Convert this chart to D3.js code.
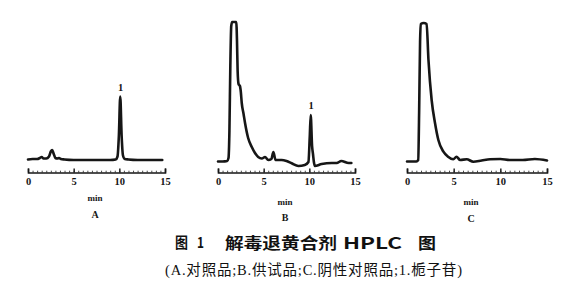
<!DOCTYPE html>
<html><head><meta charset="utf-8">
<script src="https://cdn.jsdelivr.net/npm/d3@7"></script>
<style>html,body{margin:0;padding:0;background:#fff;}svg{display:block;}</style>
</head><body>
<svg id="c" width="583" height="289"></svg>
<script>
// ---- data (time in min, detector signal in arbitrary units) ----
const timesA = [0,0.5,1.0,1.3,1.5,1.7,2.0,2.3,2.5,2.65,2.8,3.0,3.2,3.4,3.6,4.0,5.0,6.0,7.0,8.0,9.0,9.6,9.8,9.95,10.1,10.25,10.4,10.6,11.0,12.0,13.0,14.0,14.7];
const valuesA = [1,1.5,1.5,2.5,3.5,2,2,4,9,10.5,7,2.5,2,2.5,1.5,1,0.5,0.5,0.5,0.5,0.5,1,4,25,64,25,5,1.5,1,0.5,0.5,0.5,0.5];

const timesB = [0,0.5,1.0,1.15,1.25,1.35,1.45,1.55,1.8,2.0,2.08,2.15,2.25,2.4,2.5,2.6,2.8,2.96,3.3,3.7,4.05,4.4,4.8,5.15,5.5,5.85,6.06,6.3,6.97,7.5,8.07,8.8,9.5,9.9,10.05,10.15,10.3,10.4,10.5,10.6,11.35,12.45,13.0,13.5,14.3,14.6];
const valuesB = [4.5,4.5,5,8,35,100,140,144,144,144,125,95,82,80,74,63,52,43,28,19,13,9,7.5,9,6,7,14,6,6,5,2.7,0,1,4,30,51,20,12,4,0,2,3,3,5,3,3];

const timesC = [0,0.5,1.0,1.2,1.3,1.4,1.47,1.8,2.1,2.3,2.64,3.0,3.36,3.9,4.4,4.96,5.3,5.7,6.4,7.1,8.0,8.9,10.0,11.0,12.4,13.7,15.0];
const valuesC = [0.5,0.5,0.5,2,50,120,138,139,138,102,62,39,22,10.3,5.3,2.7,5.3,2,2.7,0.3,1.5,2.7,3,2,2,3,1.5];

const majorTicks = [0,5,10,15];
const panelLabels = ["A","B","C"];
const peakLabel = "1";
const axisUnit = "min";
const titleParts = ["图","1","解毒退黄合剂","HPLC","图"];
const caption = "(A.对照品;B.供试品;C.阴性对照品;1.栀子苷)";

// ---- layout ----
const svg = d3.select("#c");
svg.append("rect").attr("width",583).attr("height",289).attr("fill","#fff");
const ink = "#161616";

const panels = [
  {t:timesA, v:valuesA, x0:28,  x1:165, zero:160.5, label:panelLabels[0], peak:{t:10.1,v:64}, minY:198, labY:214, cx:95},
  {t:timesB, v:valuesB, x0:218, x1:355, zero:166,   label:panelLabels[1], peak:{t:10.15,v:51}, minY:202, labY:217, cx:285},
  {t:timesC, v:valuesC, x0:407, x1:547, zero:162,   label:panelLabels[2], peak:null, minY:202, labY:218, cx:471}
];
const axisY = 172.5;

panels.forEach(p => {
  const x = d3.scaleLinear().domain([0,15]).range([p.x0,p.x1]);
  const y = d3.scaleLinear().domain([0,150]).range([p.zero,p.zero-150]);
  const g = svg.append("g");
  const pts = p.t.map((t,i)=>[t,p.v[i]]);
  g.append("path").datum(pts)
    .attr("fill","none").attr("stroke",ink).attr("stroke-width",2.6)
    .attr("stroke-linejoin","round").attr("stroke-linecap","round")
    .attr("d", d3.line().x(d=>x(d[0])).y(d=>y(d[1])).curve(d3.curveMonotoneX));

  // minor ticks
  const minor = g.append("g").attr("transform",`translate(0,${axisY})`)
    .call(d3.axisBottom(x).tickValues(d3.range(0,15.01,0.5)).tickSize(-1.8).tickSizeOuter(0).tickFormat(""));
  minor.select(".domain").remove();
  minor.selectAll("line").attr("stroke",ink).attr("stroke-width",0.8);

  const ax = g.append("g").attr("transform",`translate(0,${axisY})`)
    .call(d3.axisBottom(x).tickValues(majorTicks).tickSizeInner(-4).tickSizeOuter(-4).tickPadding(5));
  ax.select(".domain").attr("stroke",ink).attr("stroke-width",1.6);
  ax.selectAll(".tick line").attr("stroke",ink).attr("stroke-width",1.4);
  ax.selectAll(".tick text").attr("fill",ink)
    .attr("font-family","'Liberation Serif','DejaVu Serif',serif")
    .attr("font-weight","bold").attr("font-size",10.5);

  g.append("text").attr("x",p.cx).attr("y",p.minY).attr("dy","0.35em")
    .attr("text-anchor","middle").attr("fill",ink)
    .attr("font-family","'Liberation Serif',serif").attr("font-weight","bold").attr("font-size",9)
    .text(axisUnit);
  g.append("text").attr("x",p.cx).attr("y",p.labY).attr("dy","0.35em")
    .attr("text-anchor","middle").attr("fill",ink)
    .attr("font-family","'Liberation Serif',serif").attr("font-weight","bold").attr("font-size",10)
    .text(p.label);
  if (p.peak) {
    g.append("text").attr("x",x(p.peak.t)+0.5).attr("y",y(p.peak.v)-6)
      .attr("text-anchor","middle").attr("fill",ink)
      .attr("font-family","'Liberation Serif',serif").attr("font-weight","bold").attr("font-size",10.5)
      .text(peakLabel);
  }
});

// title, laid out in segments
const titleSpans = [
  {x:175, w:13,  fs:14.5},
  {x:197, w:7,   fs:15},
  {x:225, w:112, fs:15.5},
  {x:343, w:59,  fs:16},
  {x:418, w:18,  fs:16}
];
titleParts.forEach((s,i) => {
  const sp = titleSpans[i];
  svg.append("text").attr("x",sp.x).attr("y",243).attr("dy","0.36em")
    .attr("fill","#111").attr("font-family","'Noto Sans CJK SC',sans-serif")
    .attr("font-weight","bold").attr("font-size",sp.fs)
    .attr("textLength",sp.w).attr("lengthAdjust","spacingAndGlyphs")
    .text(s);
});
svg.append("text").attr("x",165).attr("y",270).attr("dy","0.36em")
  .attr("fill","#111").attr("font-family","'Liberation Serif','Noto Sans CJK SC',serif")
  .attr("font-size",14.5)
  .attr("textLength",297).attr("lengthAdjust","spacing")
  .text(caption);
</script>
</body></html>
